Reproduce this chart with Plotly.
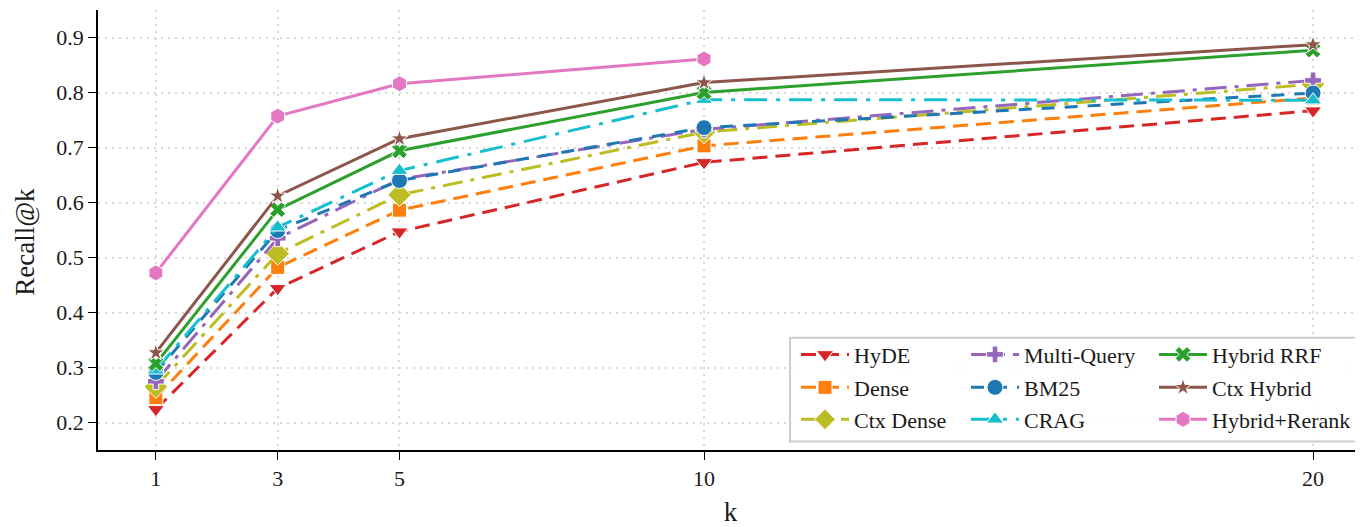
import plotly.graph_objects as go

k_values = [1, 3, 5, 10, 20]

hyde = [0.224, 0.444, 0.547, 0.673, 0.767]
dense = [0.245, 0.482, 0.586, 0.703, 0.790]
ctx_dense = [0.265, 0.507, 0.614, 0.728, 0.815]
multi_query = [0.275, 0.535, 0.642, 0.733, 0.822]
bm25 = [0.291, 0.549, 0.640, 0.736, 0.799]
crag = [0.295, 0.555, 0.658, 0.787, 0.786]
hybrid_rrf = [0.307, 0.587, 0.694, 0.800, 0.877]
ctx_hybrid = [0.327, 0.612, 0.716, 0.818, 0.887]
hybrid_rerank = [0.472, 0.757, 0.816, 0.861, None]

series_names = ["HyDE", "Dense", "Ctx Dense", "Multi-Query", "BM25", "CRAG",
                "Hybrid RRF", "Ctx Hybrid", "Hybrid+Rerank"]
series_values = [hyde, dense, ctx_dense, multi_query, bm25, crag,
                 hybrid_rrf, ctx_hybrid, hybrid_rerank]

colors = ["#d62728", "#ff7f0e", "#bcbd22", "#9467bd", "#1f77b4", "#17becf",
          "#2ca02c", "#8c564b", "#e377c2"]
symbols = ["triangle-down", "square", "diamond", "cross", "circle", "triangle-up",
           "x", "star", "hexagon"]
sizes = [15, 14, 18, 14, 16, 15, 14, 13, 16]
dashes = ["15px,8px", "15px,8px", "20px,8px,4px,8px", "22px,8px,4px,8px",
          "13px,10px", "23px,9px,4px,9px", "solid", "solid", "solid"]

FONT = "Liberation Serif"
TXT = "#1a1a1a"

# page-pixel geometry of the plot area (browser body adds an 8px offset)
PAGE_OFF = 8
PLOT_L, PLOT_R, PLOT_T, PLOT_B = 98, 1363, 10, 450.5
W, H = 1363 - PAGE_OFF, 527 - PAGE_OFF


def px_x(px):
    return (px - PLOT_L) / (PLOT_R - PLOT_L)


def px_y(py):
    return (PLOT_B - py) / (PLOT_B - PLOT_T)


# legend grid: 3 columns x 3 rows (column-major like matplotlib ncol=3)
col_text_x = [858, 1028, 1216]
row_y = [355, 388, 420]

fig = go.Figure()
legend_layouts = {}
for i, (name, vals, c, s, sz, d) in enumerate(zip(series_names, series_values, colors,
                                                   symbols, sizes, dashes)):
    col, row = divmod(i, 3)
    lname = "legend" if i == 0 else f"legend{i + 1}"
    legend_layouts[lname] = dict(
        x=px_x(col_text_x[col] - 62), y=px_y(row_y[row]),
        xanchor="left", yanchor="middle",
        bgcolor="rgba(0,0,0,0)", borderwidth=0, itemwidth=48,
        font=dict(family=FONT, size=22, color=TXT),
    )
    fig.add_trace(go.Scatter(
        x=k_values, y=vals, name=name, mode="lines+markers",
        line=dict(color=c, width=3, dash=d),
        marker=dict(symbol=s, size=sz, color=c, line=dict(color="white", width=1)),
        connectgaps=False, legend=lname,
    ))

fig.update_layout(
    width=W, height=H,
    margin=dict(l=PLOT_L - PAGE_OFF, r=0, t=PLOT_T - PAGE_OFF, b=527 - PLOT_B,
                autoexpand=False),
    paper_bgcolor="white", plot_bgcolor="white",
    font=dict(family=FONT, size=22, color=TXT),
    showlegend=True,
    **legend_layouts,
)
fig.add_shape(
    type="rect", xref="paper", yref="paper",
    x0=px_x(790), x1=px_x(1358), y0=px_y(442), y1=px_y(338),
    line=dict(color="#cccccc", width=2), fillcolor="rgba(255,255,255,0.85)",
    layer="above",
)
fig.add_annotation(
    text="Recall@k", xref="paper", yref="paper", x=px_x(25), y=px_y(242),
    xanchor="center", yanchor="middle", textangle=-90, showarrow=False,
    font=dict(family=FONT, size=27, color=TXT),
)
fig.update_xaxes(
    range=[0.05, 20.82], tickvals=k_values, ticktext=[str(v) for v in k_values],
    showline=True, linecolor="black", linewidth=1.5, mirror=False,
    ticks="outside", ticklen=8, tickwidth=1.2, tickcolor="black",
    showgrid=True, gridcolor="#d8d8d8", griddash="2px,5px", gridwidth=1.5,
    zeroline=False, tickfont=dict(family=FONT, size=22, color=TXT),
    automargin=False,
    title=dict(text="k", font=dict(family=FONT, size=27, color=TXT), standoff=12),
)
fig.update_yaxes(
    range=[0.15, 0.95], tickvals=[0.2, 0.3, 0.4, 0.5, 0.6, 0.7, 0.8, 0.9],
    ticktext=["0.2", "0.3", "0.4", "0.5", "0.6", "0.7", "0.8", "0.9"],
    showline=True, linecolor="black", linewidth=1.5, mirror=False,
    ticks="outside", ticklen=8, tickwidth=1.2, tickcolor="black",
    showgrid=True, gridcolor="#d8d8d8", griddash="2px,5px", gridwidth=1.5,
    zeroline=False, tickfont=dict(family=FONT, size=22, color=TXT),
    automargin=False,
)

fig.write_html("out.html")
